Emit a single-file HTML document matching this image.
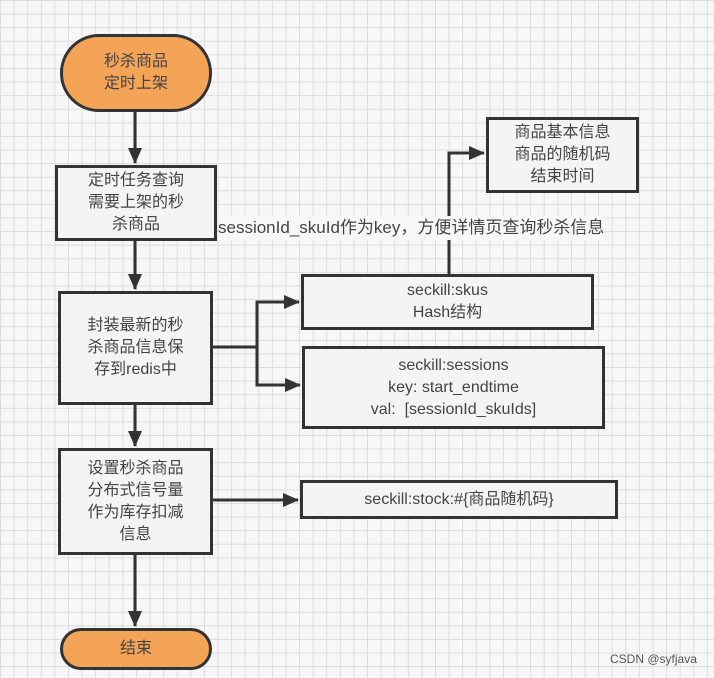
<!DOCTYPE html>
<html><head><meta charset="utf-8"><style>
body{margin:0;width:714px;height:678px;overflow:hidden;background-color:#f7f7f7;
background-image:linear-gradient(#dcdcdc 1px,transparent 1px),linear-gradient(90deg,#dcdcdc 1px,transparent 1px);background-size:13.6px 13.6px;
font-family:"Liberation Sans","Noto Sans CJK SC",sans-serif;color:#444;position:relative}
.b{position:absolute;box-sizing:border-box;border:3px solid #333;background:#f4f4f4;display:flex;align-items:center;justify-content:center;text-align:center;font-size:16px;line-height:22px}
.o{background:#f4a456;border-radius:40px}
svg{position:absolute;left:0;top:0}
</style></head><body>
<svg width="714" height="678">
<defs><marker id="a" markerWidth="10" markerHeight="10" refX="9" refY="5" orient="auto" markerUnits="userSpaceOnUse"><path d="M0,0 L10,5 L0,10z" fill="#333"/></marker>
<marker id="h" markerWidth="16" markerHeight="14" refX="15" refY="7" orient="auto" markerUnits="userSpaceOnUse"><path d="M0,0 L16,7 L0,14z" fill="#333"/></marker></defs>
<g stroke="#333" stroke-width="3" fill="none">
<path d="M135 112V163" marker-end="url(#h)"/>
<path d="M135 241V289" marker-end="url(#h)"/>
<path d="M135 405V446" marker-end="url(#h)"/>
<path d="M135 555V626" marker-end="url(#h)"/>
<path d="M213 347H257"/>
<path d="M257 385V302H299" marker-end="url(#h)"/>
<path d="M257 347V385H300" marker-end="url(#h)"/>
<path d="M213 500H298" marker-end="url(#h)"/>
<path d="M449 274V153H484" marker-end="url(#h)"/>
</g></svg>
<div class="b o" style="left:60px;top:34px;width:152px;height:78px">秒杀商品<br>定时上架</div>
<div class="b" style="left:55px;top:165px;width:162px;height:76px">定时任务查询<br>需要上架的秒<br>杀商品</div>
<div class="b" style="left:58px;top:291px;width:155px;height:114px">封装最新的秒<br>杀商品信息保<br>存到redis中</div>
<div class="b" style="left:58px;top:448px;width:155px;height:107px">设置秒杀商品<br>分布式信号量<br>作为库存扣减<br>信息</div>
<div class="b o" style="left:60px;top:628px;width:152px;height:42px">结束</div>
<div class="b" style="left:486px;top:117px;width:153px;height:76px">商品基本信息<br>商品的随机码<br>结束时间</div>
<div class="b" style="left:301px;top:274px;width:293px;height:56px">seckill:skus<br>Hash结构</div>
<div class="b" style="left:302px;top:346px;width:303px;height:83px">seckill:sessions<br>key: start_endtime<br>val:&nbsp; [sessionId_skuIds]</div>
<div class="b" style="left:300px;top:480px;width:318px;height:39px">seckill:stock:#{商品随机码}</div>
<div style="position:absolute;left:218px;top:216px;font-size:17px;background:#f7f7f7;white-space:nowrap;line-height:24px">sessionId_skuId作为key，方便详情页查询秒杀信息</div>
<div style="position:absolute;left:610px;top:652px;font-size:12px;color:#555;white-space:nowrap">CSDN @syfjava</div>
</body></html>
